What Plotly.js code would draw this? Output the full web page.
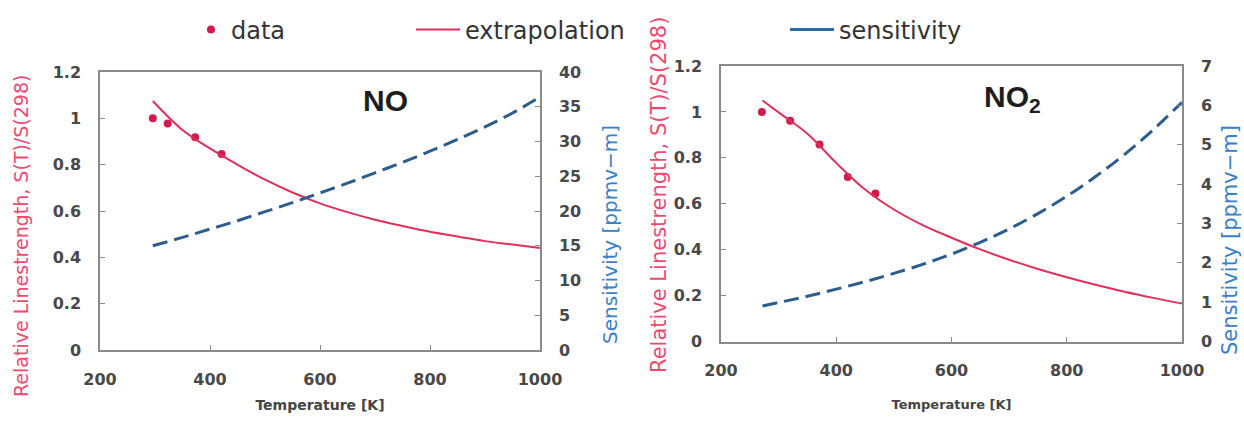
<!DOCTYPE html>
<html>
<head>
<meta charset="utf-8">
<script src="https://cdn.plot.ly/plotly-3.0.1.min.js"></script>
<style>html,body{margin:0;padding:0;background:#fff;}#chart{width:1244px;height:421px;}</style>
</head>
<body>
<div id="chart"></div>
<script>
// ---- NO panel ----
const noDataT = [296, 323, 373, 421];
const noDataS = [1.0, 0.978, 0.918, 0.846];
const noCurveT = [296, 350, 400, 450, 500, 550, 600, 650, 700, 750, 800, 850, 900, 950, 1000];
const noExtrap = [1.075, 0.95, 0.87, 0.80, 0.735, 0.68, 0.633, 0.595, 0.562, 0.535, 0.51, 0.49, 0.47, 0.455, 0.44];
const noSens = [15.0, 16.2, 17.4, 18.6, 19.9, 21.2, 22.6, 24.0, 25.5, 27.0, 28.6, 30.3, 32.1, 34.1, 36.4];

// ---- NO2 panel ----
const no2DataT = [271, 320, 371, 420, 468];
const no2DataS = [1.0, 0.961, 0.858, 0.717, 0.645];
const no2CurveT = [272, 300, 350, 400, 450, 500, 550, 600, 650, 700, 750, 800, 850, 900, 950, 1000];
const no2Extrap = [1.05, 0.998, 0.905, 0.778, 0.662, 0.575, 0.507, 0.452, 0.401, 0.356, 0.316, 0.28, 0.247, 0.217, 0.19, 0.165];
const no2Sens = [0.9, 0.99, 1.15, 1.33, 1.52, 1.73, 1.96, 2.22, 2.52, 2.86, 3.25, 3.69, 4.19, 4.75, 5.38, 6.08];

// ---- labels ----
const legendNames = ['data', 'extrapolation', 'sensitivity'];
const xTitle = 'Temperature [K]';
const yLeftTitle = 'Relative Linestrength, S(T)/S(298)';
const yRightTitle = 'Sensitivity [ppmv\u2212m]';
const panelLabels = ['NO', 'NO<sub>2</sub>'];

const RED = '#e0305a';
const DOT = '#d41a4c';
const BLUE = '#2d5d8c';
const W = 1244, H = 421;
const px = v => v / W;
const py = v => 1 - v / H;

const tickFont = {family: 'DejaVu Sans', size: 16, color: '#484848', weight: 'bold'};
const legFont = {family: 'DejaVu Sans', size: 24, color: '#333'};

const traces = [
  {x: noDataT, y: noDataS, xaxis: 'x', yaxis: 'y', mode: 'markers', name: legendNames[0],
   marker: {color: DOT, size: 8}, legend: 'legend', showlegend: true},
  {x: noCurveT, y: noExtrap, xaxis: 'x', yaxis: 'y', mode: 'lines', name: legendNames[1],
   line: {color: RED, width: 2, shape: 'spline'}, legend: 'legend2', showlegend: true},
  {x: noCurveT, y: noSens, xaxis: 'x', yaxis: 'y2', mode: 'lines', name: legendNames[2],
   line: {color: BLUE, width: 3, dash: '15px,7px', shape: 'spline'}, showlegend: false},
  {x: no2DataT, y: no2DataS, xaxis: 'x2', yaxis: 'y3', mode: 'markers', name: legendNames[0],
   marker: {color: DOT, size: 8}, showlegend: false},
  {x: no2CurveT, y: no2Extrap, xaxis: 'x2', yaxis: 'y3', mode: 'lines', name: legendNames[1],
   line: {color: RED, width: 2, shape: 'spline'}, showlegend: false},
  {x: no2CurveT, y: no2Sens, xaxis: 'x2', yaxis: 'y4', mode: 'lines', name: legendNames[2],
   line: {color: BLUE, width: 3, dash: '15px,7px', shape: 'spline'}, showlegend: false},
  {x: [null], y: [null], xaxis: 'x', yaxis: 'y2', mode: 'lines', name: legendNames[2],
   line: {color: '#2e6aa6', width: 3}, legend: 'legend3', showlegend: true, hoverinfo: 'skip'}
];

function xAx(dom, anchor) {
  return {domain: dom, anchor: anchor, range: [200, 1000], dtick: 200, tick0: 200,
    showline: true, mirror: true, linecolor: '#8a8a8a', linewidth: 1.5,
    ticks: 'inside', ticklen: 5, tickcolor: '#8a8a8a', showgrid: false, zeroline: false,
    tickfont: tickFont, ticklabelstandoff: 14, automargin: false};
}
function yAx(dom, anchor, range, dtick, side, overlay) {
  const a = {domain: dom, anchor: anchor, range: range, dtick: dtick, side: side,
    showline: true, linecolor: '#8a8a8a', linewidth: 1.5,
    ticks: 'inside', ticklen: 5, tickcolor: '#8a8a8a', showgrid: false, zeroline: false,
    tickfont: tickFont, ticklabelstandoff: 14, automargin: false};
  if (overlay) a.overlaying = overlay;
  return a;
}

const dL = [px(100), px(540)], dLy = [py(350), py(72)];
const dR = [px(721), px(1182)], dRy = [py(341.5), py(66)];

function ann(text, x, y, font, angle) {
  const a = {text: text, x: px(x), y: py(y), xref: 'paper', yref: 'paper', showarrow: false,
    xanchor: 'center', yanchor: 'middle', font: font};
  if (angle !== undefined) a.textangle = angle;
  return a;
}

const layout = {
  width: W, height: H,
  margin: {l: 0, r: 0, t: 0, b: 0},
  paper_bgcolor: '#fff', plot_bgcolor: '#fff',
  xaxis: Object.assign(xAx(dL, 'y'), {title: {text: xTitle, font: {family: 'DejaVu Sans', size: 14, color: '#444', weight: 'bold'}, standoff: 12}}),
  yaxis: yAx(dLy, 'x', [0, 1.2], 0.2, 'left'),
  yaxis2: yAx(dLy, 'x', [0, 40], 5, 'right', 'y'),
  xaxis2: Object.assign(xAx(dR, 'y3'), {title: {text: xTitle, font: {family: 'DejaVu Sans', size: 13, color: '#444', weight: 'bold'}, standoff: 20}}),
  yaxis3: yAx(dRy, 'x2', [0, 1.2], 0.2, 'left'),
  yaxis4: yAx(dRy, 'x2', [0, 7], 1, 'right', 'y3'),
  legend: {orientation: 'h', x: px(191), xanchor: 'left', y: py(30), yanchor: 'middle', font: legFont, bgcolor: 'rgba(0,0,0,0)'},
  legend2: {orientation: 'h', x: px(411), xanchor: 'left', y: py(30), yanchor: 'middle', font: legFont, bgcolor: 'rgba(0,0,0,0)', itemwidth: 44},
  legend3: {orientation: 'h', x: px(785), xanchor: 'left', y: py(30), yanchor: 'middle', font: legFont, bgcolor: 'rgba(0,0,0,0)', itemwidth: 44},
  annotations: [
    ann(panelLabels[0], 385, 100, {family: 'Liberation Sans', size: 30, color: '#1e1e1e', weight: 'bold'}),
    ann(panelLabels[1], 1012, 98, {family: 'Liberation Sans', size: 30, color: '#1e1e1e', weight: 'bold'}),
    ann(yLeftTitle, 21, 236, {family: 'DejaVu Sans', size: 19, color: '#ee4a70'}, -90),
    ann(yRightTitle, 610, 235, {family: 'DejaVu Sans', size: 20, color: '#3a80c4'}, -90),
    ann(yLeftTitle, 659, 195, {family: 'DejaVu Sans', size: 21, color: '#ee4a70'}, -90),
    ann(yRightTitle, 1230, 240, {family: 'DejaVu Sans', size: 21, color: '#3a80c4'}, -90)
  ]
};

Plotly.newPlot('chart', traces, layout, {displayModeBar: false, responsive: false});
</script>
</body>
</html>
